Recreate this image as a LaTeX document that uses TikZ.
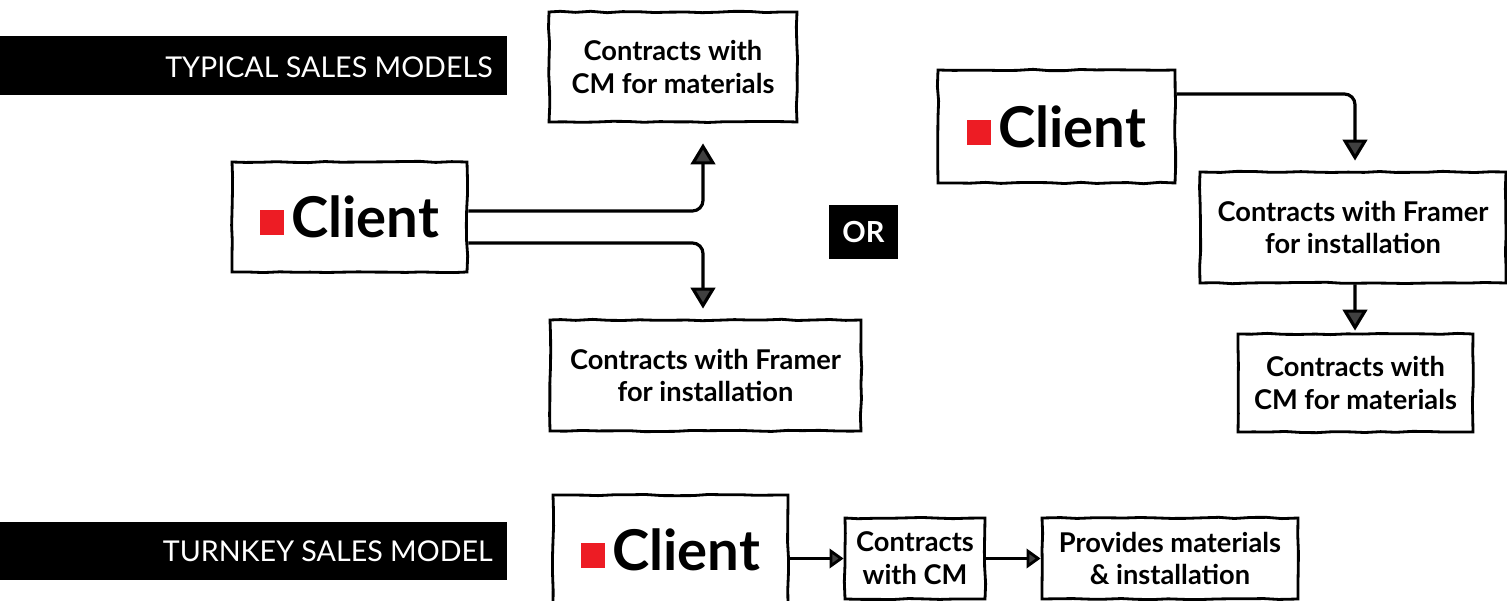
\documentclass[tikz,border=0pt]{standalone}
\usepackage{fontspec}
\setmainfont{Lato}
\usetikzlibrary{arrows.meta,decorations.pathmorphing,positioning}
\definecolor{brandred}{HTML}{ED1C24}
\tikzset{
  sketchy/.style={decorate,decoration={random steps,segment length=9pt,amplitude=0.4pt}},
  card/.style={draw=black,line width=1.6pt,fill=white,sketchy,align=center,
    font=\fontsize{15.5}{18.7}\selectfont\bfseries,inner sep=0pt},
  clientbox/.style={card,minimum width=4.7cm,minimum height=2.2cm},
  banner/.style={fill=black,draw=none},
  bannertext/.style={text=white,font=\fontsize{16.3}{18}\selectfont,anchor=east,inner sep=0pt},
  flow/.style={line width=1.8pt,rounded corners=6pt,
    -{Triangle[width=14pt,length=12pt,fill=black!75]}},
  smallflow/.style={line width=1.6pt,
    -{Triangle[width=11pt,length=8pt,fill=black!75]}},
}
\newcommand{\clientlabel}{\tikz[baseline=-0.05cm]\fill[brandred] (0,0) rectangle (0.48,0.5);\hspace{4pt}{\fontsize{32}{34}\selectfont\bfseries Client}}
\begin{document}
\begin{tikzpicture}
\pgfmathsetseed{7}
\useasboundingbox (0,0) rectangle (30.14,-12.02);
\clip (0,0) rectangle (30.14,-12.02);

% section banners
\fill[banner] (0,-0.72) rectangle (10.14,-1.90);
\node[bannertext] (typ) at (9.86,-1.34) {TYPICAL SALES MODELS};
\fill[banner] (0,-10.44) rectangle (10.14,-11.60);
\node[bannertext] (turn) at (9.86,-11.03) {TURNKEY SALES MODEL};

% first typical model: client contracts both parties directly
\node[card,minimum width=4.96cm,minimum height=2.2cm] (cmA) at (13.46,-1.34) {Contracts with\\CM for materials};
\node[clientbox] (clientL) at (6.99,-4.34) {\clientlabel};
\node[card,minimum width=6.22cm,minimum height=2.22cm] (framerA) at (14.11,-7.51) {Contracts with Framer\\for installation};

\draw[flow,shorten >=0.4cm] ([yshift=0.12cm]clientL.east) -| ([xshift=0.6cm]cmA.south);
\draw[flow,shorten >=0.2cm] ([yshift=-0.52cm]clientL.east) -| ([xshift=-0.05cm]framerA.north);

% separator
\node[fill=black,text=white,minimum width=1.38cm,minimum height=1.08cm,inner sep=0pt,
  font=\fontsize{16.5}{18}\selectfont\bfseries] (or) at (17.27,-4.64) {OR};

% second typical model: framer subcontracts materials
\node[clientbox,minimum width=4.74cm,minimum height=2.26cm] (clientR) at (21.13,-2.53) {\clientlabel};
\node[card,minimum width=6.12cm,minimum height=2.22cm] (framerB) at (27.06,-4.55) {Contracts with Framer\\for installation};
\node[card,minimum width=4.7cm,minimum height=1.96cm] (cmB) at (27.11,-7.66) {Contracts with\\CM for materials};

\draw[flow,shorten >=0.2cm] ([yshift=0.65cm]clientR.east) -| ([xshift=0.04cm]framerB.north);
\draw[flow,shorten >=0.04cm] ([xshift=0.04cm]framerB.south) -- ([xshift=-0.01cm]cmB.north);

% turnkey model
\node[clientbox] (clientB) at (13.41,-11.0) {\clientlabel};
\node[card,minimum width=2.8cm,minimum height=1.62cm] (cwcm) at (18.30,-11.17) {Contracts\\with CM};
\node[card,minimum width=5.12cm,minimum height=1.62cm] (prov) at (23.40,-11.17) {Provides materials\\\& installation};

\draw[smallflow] (clientB.east |- cwcm.west) -- (cwcm.west);
\draw[smallflow] (cwcm.east) -- (prov.west);
\end{tikzpicture}
\end{document}
